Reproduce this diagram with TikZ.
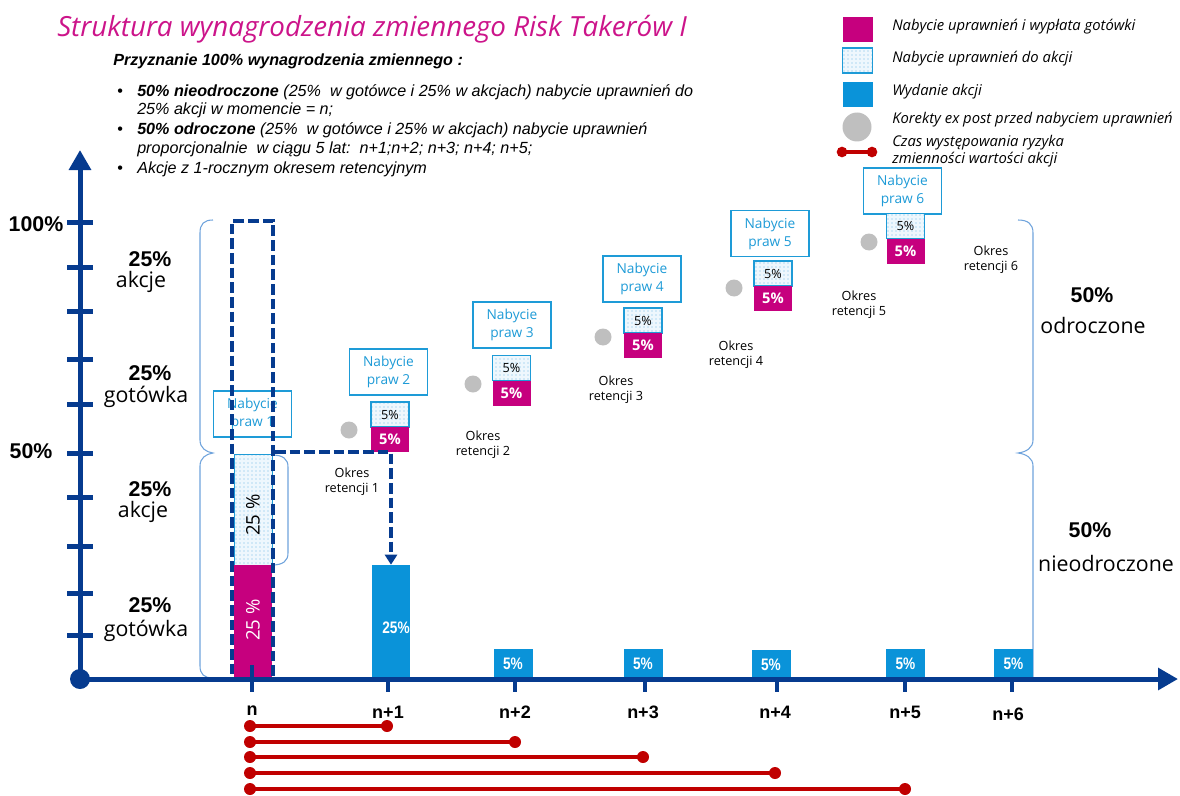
\documentclass[tikz,border=0pt]{standalone}
\usepackage{fontspec}
\setmainfont{Open Sans}
\newfontfamily\arfont{Liberation Sans}
\newfontfamily\narfont{Liberation Sans}[FakeStretch=0.82]
\usetikzlibrary{arrows.meta,patterns}
\definecolor{mag}{HTML}{C6007E}
\definecolor{ttl}{HTML}{CC148A}
\definecolor{sblue}{HTML}{0A93D9}
\definecolor{lblue}{HTML}{1E9BD7}
\definecolor{dblue}{HTML}{063B8F}
\definecolor{dotc}{HTML}{6DB9E6}
\definecolor{dotbg}{HTML}{EEF7FD}
\definecolor{gdot}{HTML}{BFBFBF}
\definecolor{rline}{HTML}{C00000}
\definecolor{brc}{HTML}{6FA3DC}
\begin{document}
\begin{tikzpicture}[x=0.75pt,y=-0.75pt,
  nbox/.style={draw=lblue,line width=1.1pt,fill=white,minimum width=58.5pt,minimum height=34.5pt,inner sep=0pt,align=center,text=lblue,font={\fontsize{10.3}{13.5}\selectfont}},
  dotbox/.style={draw=lblue,line width=0.8pt,preaction={fill=dotbg},pattern=dots,pattern color=dotc,minimum width=28.5pt,minimum height=18.75pt,inner sep=0pt,font={\fontsize{9.5}{10}\selectfont}},
  magbox/.style={fill=mag,minimum width=28.5pt,minimum height=18.75pt,inner sep=0pt,text=white,font={\bfseries\fontsize{11}{12}\selectfont}},
  okres/.style={align=center,inner sep=0pt,font={\fontsize{9.5}{11.25}\selectfont}},
  gray dot/.style={circle,fill=gdot,minimum size=12.75pt,inner sep=0pt},
  smallbar/.style={fill=sblue,minimum width=29.25pt,minimum height=21.75pt,inner sep=0pt,text=white,font={\narfont\bfseries\fontsize{12.5}{13}\selectfont}},
  rdot/.style={circle,fill=rline,minimum size=9pt,inner sep=0pt},
  rl/.style={draw=rline,line width=2.4pt},
  axis/.style={draw=dblue,line width=3.75pt,-{Triangle[length=15pt,width=16pt]}},
  tickmark/.style={draw=dblue,line width=3.75pt},
  xtick/.style={draw=dblue,line width=3pt},
  brace/.style={draw=brc,line width=0.8pt},
  bul/.style={anchor=base west,inner sep=0pt,font={\arfont\itshape\fontsize{12.1}{13}\selectfont}},
  lgtext/.style={anchor=west,inner sep=0pt,font={\itshape\fontsize{11.1}{12.75}\selectfont},align=left},
  big/.style={inner sep=0pt,font={\arfont\bfseries\fontsize{16}{18}\selectfont}},
  bigw/.style={inner sep=0pt,font={\fontsize{16}{18}\selectfont}},
  tlab/.style={inner sep=0pt,font={\arfont\bfseries\fontsize{13.5}{15}\selectfont}}
]
\useasboundingbox (0,0) rectangle (1180,795);

% title and text
\node[anchor=base west,inner sep=0pt,text=ttl,font={\itshape\fontsize{20.8}{24}\selectfont}] (title) at (57,37) {Struktura wynagrodzenia zmiennego Risk Takerów I};
\node[anchor=base west,inner sep=0pt,font={\arfont\bfseries\itshape\fontsize{12.1}{13}\selectfont}] (sub) at (113,66) {Przyznanie 100\% wynagrodzenia zmiennego :};
\node[bul] (b1) at (117,97) {\upshape•};
\node[bul] (l1) at (137,97) {\bfseries 50\% nieodroczone\mdseries{} (25\%\ \ w gotówce i 25\% w akcjach) nabycie uprawnień do};
\node[bul] (l2) at (137,115) {25\% akcji w momencie = n;};
\node[bul] (b2) at (117,135) {\upshape•};
\node[bul] (l3) at (137,135) {\bfseries 50\% odroczone\mdseries{} (25\%\ \ w gotówce i 25\% w akcjach) nabycie uprawnień};
\node[bul] (l4) at (137,154) {proporcjonalnie\ \ w ciągu 5 lat:\ \ n+1;n+2; n+3; n+4; n+5;};
\node[bul] (b3) at (117,173) {\upshape•};
\node[bul] (l5) at (137,173) {Akcje z 1-rocznym okresem retencyjnym};

% legend
\node[fill=mag,minimum width=22.5pt,minimum height=18.75pt,inner sep=0pt] (lg1) at (857.5,29.5) {};
\node[dotbox,minimum width=22.5pt] (lg2) at (857.5,60.5) {};
\node[fill=sblue,minimum width=22.5pt,minimum height=18.75pt,inner sep=0pt] (lg3) at (857.5,95) {};
\node[circle,fill=gdot,minimum size=21.75pt,inner sep=0pt] (lg4) at (857,127) {};
\node[rdot,minimum size=8pt] (lg5a) at (842,152) {};
\node[rdot,minimum size=8pt] (lg5b) at (872,152) {};
\draw[rl] (lg5a.center) -- (lg5b.center);
\node[lgtext] (t1) at (892,27) {Nabycie uprawnień i wypłata gotówki};
\node[lgtext] (t2) at (892,59) {Nabycie uprawnień do akcji};
\node[lgtext] (t3) at (892,92) {Wydanie akcji};
\node[lgtext] (t4) at (892,120) {Korekty ex post przed nabyciem uprawnień};
\node[lgtext] (t5) at (892,151.5) {Czas występowania ryzyka\\zmienności wartości akcji};

% braces
\draw[brace] (213,220) .. controls (204,220) and (200,224) .. (200,233) -- (200,440) .. controls (200,448) and (206,452) .. (213,453) .. controls (206,454) and (200,458) .. (200,466) -- (200,666) .. controls (200,674) and (204,678) .. (213,678);
\draw[brace] (1018,220) .. controls (1028,220) and (1033,224) .. (1033,233) -- (1033,440) .. controls (1033,448) and (1026,452) .. (1018,453) .. controls (1026,454) and (1033,458) .. (1033,466) -- (1033,679);

% column n
\node[nbox] (p1) at (252.5,414) {Nabycie\\praw 1};
\node[draw=lblue,line width=0.6pt,preaction={fill=dotbg},pattern=dots,pattern color=dotc,minimum width=28.5pt,minimum height=83.25pt,inner sep=0pt] (s0) at (253,509.5) {};
\node[rotate=90,inner sep=0pt,font={\fontsize{14}{16}\selectfont}] (s0t) at (253,515) {25 \%};
\node[fill=mag,minimum width=28.5pt,minimum height=84.75pt,inner sep=0pt] (c0) at (253,621.5) {};
\node[rotate=90,inner sep=0pt,text=white,font={\fontsize{14}{16}\selectfont}] (c0t) at (253,620) {25 \%};
\draw[brace] (272,455) .. controls (283,455) and (288,459) .. (288,467) -- (288,553) .. controls (288,561) and (283,565) .. (272,565);

% blue bars
\node[fill=sblue,minimum width=28.5pt,minimum height=84.75pt,inner sep=0pt] (bar1) at (391,621.5) {};
\node[inner sep=0pt,text=white,font={\narfont\bfseries\fontsize{12.5}{13}\selectfont}] (bar1t) at (396,628) {25\%};
\node[smallbar] (bar2) at (513,663.5) {5\%};
\node[smallbar] (bar3) at (643,663.5) {5\%};
\node[smallbar] (bar4) at (771,664.5) {5\%};
\node[smallbar] (bar5) at (905.5,663.5) {5\%};
\node[smallbar] (bar6) at (1013.5,663.5) {5\%};

% deferred parts
\node[nbox] (p2) at (388.5,372) {Nabycie\\praw 2};
\node[nbox] (p3) at (512,325) {Nabycie\\praw 3};
\node[nbox] (p4) at (642,279) {Nabycie\\praw 4};
\node[nbox] (p5) at (770,233.5) {Nabycie\\praw 5};
\node[nbox] (p6) at (902.5,191) {Nabycie\\praw 6};

\node[dotbox] (d2) at (390,414.5) {5\%};
\node[magbox] (m2) at (390,439.5) {5\%};
\node[dotbox] (d3) at (511.5,368) {5\%};
\node[magbox] (m3) at (511.5,393) {5\%};
\node[dotbox] (d4) at (643,320.5) {5\%};
\node[magbox] (m4) at (643,345.5) {5\%};
\node[dotbox] (d5) at (773,273.5) {5\%};
\node[magbox] (m5) at (773,298.5) {5\%};
\node[dotbox] (d6) at (905.5,226) {5\%};
\node[magbox] (m6) at (905.5,251) {5\%};

\node[gray dot] (g2) at (349,430) {};
\node[gray dot] (g3) at (473,384) {};
\node[gray dot] (g4) at (603,337) {};
\node[gray dot] (g5) at (734,288) {};
\node[gray dot] (g6) at (869,242) {};

\node[okres] (o1) at (352,482) {Okres\\retencji 1};
\node[okres] (o2) at (483,445) {Okres\\retencji 2};
\node[okres] (o3) at (616,390) {Okres\\retencji 3};
\node[okres] (o4) at (736,355) {Okres\\retencji 4};
\node[okres] (o5) at (859,305) {Okres\\retencji 5};
\node[okres] (o6) at (991,260) {Okres\\retencji 6};

% dashed outline and connector
\node[draw=dblue,line width=3pt,dash pattern=on 8pt off 3pt,preaction={draw=white,line width=3pt},minimum width=30.75pt,minimum height=343.5pt,inner sep=0pt] (dr) at (252.5,450) {};
\draw[draw=dblue,line width=3pt,dash pattern=on 8pt off 3pt,-{Triangle[length=7.5pt,width=9pt]}] (dr.east |- m2.south) -| (bar1.north);

% axes
\node[circle,fill=dblue,minimum size=15pt,inner sep=0pt] (O) at (80,679) {};
\coordinate (Ytop) at (80,150);
\coordinate (Xend) at (1178,679);
\draw[axis] (O.center) -- (Ytop);
\draw[axis] (O.center) -- (Xend);
\foreach \yy in {222,267,311,359,404,453,497,546,593,635} \draw[tickmark] (67,\yy) -- (93,\yy);
\draw[xtick] (252,665) -- (252,692);
\foreach \xx in {388,515,645,777,905,1012} \draw[xtick] (\xx,679) -- (\xx,692);

% x labels
\node[tlab] (xn) at (252,711) {n};
\node[tlab] (xn1) at (388,712) {n+1};
\node[tlab] (xn2) at (515,712) {n+2};
\node[tlab] (xn3) at (643,712) {n+3};
\node[tlab] (xn4) at (775,712) {n+4};
\node[tlab] (xn5) at (905,712) {n+5};
\node[tlab] (xn6) at (1008,714) {n+6};

% y labels
\node[big] (y100) at (36,224) {100\%};
\node[big] (y50) at (31,451) {50\%};
\node[big] (a1) at (150,259) {25\%};
\node[bigw] (a1t) at (141,282) {akcje};
\node[big] (a2) at (150,373) {25\%};
\node[bigw] (a2t) at (146,397) {gotówka};
\node[big] (a3) at (150,489) {25\%};
\node[bigw] (a3t) at (143,512) {akcje};
\node[big] (a4) at (150,605) {25\%};
\node[bigw] (a4t) at (146,631) {gotówka};

\node[big] (r1) at (1092,295) {50\%};
\node[bigw] (r1t) at (1093,325) {odroczone};
\node[big] (r2) at (1090,530) {50\%};
\node[bigw] (r2t) at (1106,563) {nieodroczone};

% risk lines
\foreach \i/\yy/\xx in {1/726/387,2/742/515,3/757/643,4/773/775,5/789/905}{
  \node[rdot] (ra\i) at (250,\yy) {};
  \node[rdot] (rb\i) at (\xx,\yy) {};
  \draw[rl] (ra\i.center) -- (rb\i.center);
}
\end{tikzpicture}
\end{document}
